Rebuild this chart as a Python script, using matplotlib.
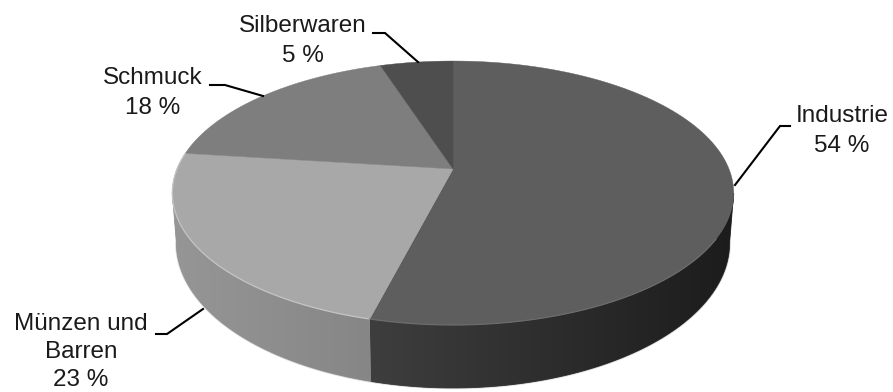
import numpy as np
import matplotlib
matplotlib.use("Agg")
import matplotlib.pyplot as plt
from matplotlib.colors import LinearSegmentedColormap
from matplotlib.patches import Polygon

plt.rcParams['font.family'] = ['Liberation Sans', 'DejaVu Sans']

categories = ['Industrie', 'Münzen und\nBarren', 'Schmuck', 'Silberwaren']
shares = [54, 23, 18, 5]

top_colors = ['#5e5e5e', '#a8a8a8', '#7e7e7e', '#4e4e4e']
wall_left = ['#3e3e3e', '#969696', '#777777', '#444444']
wall_right = ['#1c1c1c', '#868686', '#777777', '#444444']

label_pos = [(842, 131), (81, 352), (153, 93), (303, 41)]
label_spacing = [1.45, 1.38, 1.45, 1.45]
leaders = [
    [(790, 126), (780, 126), (735, 185)],
    [(156, 334), (167, 334), (203, 309)],
    [(210, 85), (225, 85), (263, 96)],
    [(373, 33), (385, 33), (418, 62)],
]

# perspective of the disc: k is how much the far side shrinks
CX = 453
K = 0.1818
# the rim is widest here, the wall is only visible between these two angles
FRONT_R = -np.arcsin(K)
FRONT_L = -np.pi + np.arcsin(K)


def project(theta, a, b, cy):
    w = 1 + K * np.sin(theta)
    return CX + a * np.cos(theta) / w, cy - b * np.sin(theta) / w


def top_rim(theta):
    return project(theta, 276, 127.6, 169)


def bottom_rim(theta):
    return project(theta, 272, 140.2, 216.6)


fig = plt.figure(figsize=(8.93, 3.92), dpi=100)
ax = fig.add_axes([0, 0, 1, 1])

# slice edges, clockwise from twelve o'clock
edges = np.pi / 2 - 2 * np.pi * np.cumsum([0] + shares) / sum(shares)

# soft edge under the wall
t = np.linspace(FRONT_L, FRONT_R, 300)
ax.plot(*bottom_rim(t), color='#dcdcdc', lw=1.8, zorder=1)

# side wall first, the top face covers whatever is behind it
for i in range(len(shares)):
    hi = min(edges[i], FRONT_R)
    lo = max(edges[i + 1], FRONT_L)
    if lo >= hi:
        continue
    t = np.linspace(lo, hi, 200)
    xt, yt = top_rim(t)
    xb, yb = bottom_rim(t)
    pts = np.column_stack([np.r_[xt, xb[::-1]], np.r_[yt, yb[::-1]]])
    patch = Polygon(pts, closed=True, fc=wall_left[i], ec=wall_left[i], lw=0.6, zorder=2)
    ax.add_patch(patch)
    cmap = LinearSegmentedColormap.from_list('wall', [wall_left[i], wall_right[i]])
    grad = np.linspace(0, 1, 256).reshape(1, -1)
    im = ax.imshow(grad, cmap=cmap, extent=[pts[:, 0].min(), pts[:, 0].max(), 392, 0],
                   aspect='auto', zorder=2.5)
    im.set_clip_path(patch)

# top face
for i in range(len(shares)):
    t = np.linspace(edges[i], edges[i + 1], 200)
    xt, yt = top_rim(t)
    pts = np.column_stack([np.r_[CX, xt], np.r_[169, yt]])
    ax.add_patch(Polygon(pts, closed=True, fc=top_colors[i], ec=top_colors[i], lw=0.3, zorder=3))

# light rim along the front of the disc
t = np.linspace(edges[2], edges[1], 100)
ax.plot(*top_rim(t), color='#c4c4c4', lw=0.9, zorder=4)
t = np.linspace(edges[1], np.radians(-30), 150)
ax.plot(*top_rim(t), color='#6c6c6c', lw=0.9, zorder=4)

for name, share, pos, gap, leader in zip(categories, shares, label_pos, label_spacing, leaders):
    ax.text(pos[0], pos[1], f'{name}\n{share} %', ha='center', va='center',
            fontsize=17.5, color='#1a1a1a', linespacing=gap, zorder=5)
    xs, ys = zip(*leader)
    ax.plot(xs, ys, color='black', lw=1.5, solid_joinstyle='miter', zorder=5)

ax.set_xlim(0, 893)
ax.set_ylim(392, 0)
ax.axis('off')

fig.savefig('out.png', dpi=100)
